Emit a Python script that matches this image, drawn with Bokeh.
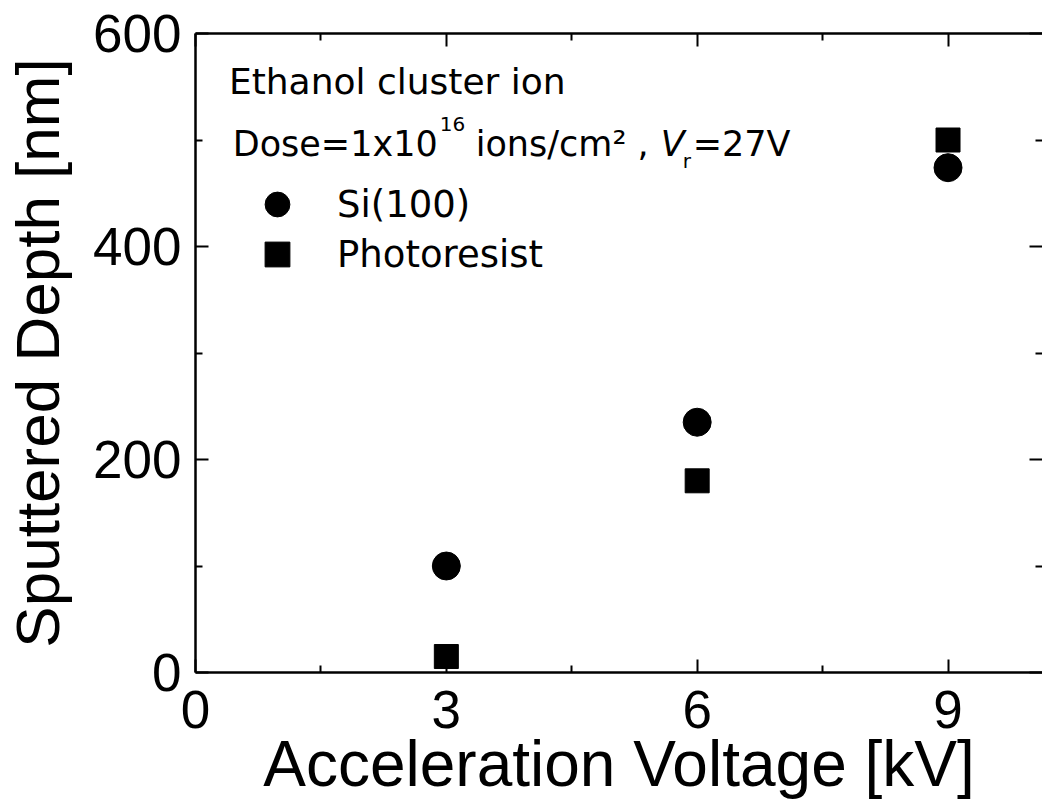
from bokeh.plotting import figure
from bokeh.models import (LinearAxis, FixedTicker, Label, Range1d, Legend, LegendItem,
                          CustomJSTickFormatter)
from bokeh.embed import file_html
from bokeh.resources import INLINE

# ---------------- data ----------------
voltage_kv = [3, 6, 9]
si_depth_nm = [100, 235, 474]
photoresist_depth_nm = [15, 180, 500]
series_names = ["Si(100)", "Photoresist"]

x_major_ticks = [0, 3, 6, 9]
x_minor_ticks = [1.5, 4.5, 7.5]
y_major_ticks = [0, 200, 400, 600]
y_minor_ticks = [100, 300, 500]

x_axis_title = "Acceleration Voltage [kV]"
y_axis_title = "Sputtered Depth [nm]"
note_title = "Ethanol cluster ion"

# ---------------- figure ----------------
p = figure(width=1042, height=802,
           x_range=Range1d(0, 10.13), y_range=Range1d(0, 600),
           x_axis_location=None, y_axis_location=None,
           output_backend="svg", toolbar_location=None,
           min_border_left=185, min_border_right=0,
           min_border_top=33, min_border_bottom=129)
p.grid.visible = False
p.outline_line_color = None
p.background_fill_color = "white"
p.border_fill_color = "white"

TICK_FONT = "Liberation Sans"
NOTE_FONT = "DejaVu Sans"


def style_axis(ax, labels=True):
    ax.axis_line_color = "black"
    ax.axis_line_width = 2.5
    ax.major_tick_in = 13
    ax.major_tick_out = 0
    ax.minor_tick_in = 7
    ax.minor_tick_out = 0
    ax.major_tick_line_width = 2
    ax.minor_tick_line_width = 2
    ax.major_tick_line_color = "black"
    ax.minor_tick_line_color = "black"
    if labels:
        ax.major_label_text_font = TICK_FONT
        ax.major_label_text_font_size = "53px"
        ax.major_label_text_color = "black"
    else:
        ax.formatter = CustomJSTickFormatter(code="return ''")
        ax.major_label_text_font_size = "1px"
        ax.major_label_standoff = 0


xb = LinearAxis(ticker=FixedTicker(ticks=x_major_ticks, minor_ticks=x_minor_ticks))
style_axis(xb)
xb.major_label_standoff = 18
xb.axis_label = x_axis_title
xb.axis_label_text_font = TICK_FONT
xb.axis_label_text_font_size = "64px"
xb.axis_label_text_font_style = "normal"
xb.axis_label_text_color = "black"
xb.axis_label_standoff = -3
p.add_layout(xb, "below")

xt = LinearAxis(ticker=FixedTicker(ticks=x_major_ticks, minor_ticks=x_minor_ticks))
style_axis(xt, labels=False)
p.add_layout(xt, "above")

yl = LinearAxis(ticker=FixedTicker(ticks=y_major_ticks, minor_ticks=y_minor_ticks))
style_axis(yl)
yl.major_label_standoff = 14
yl.axis_label = y_axis_title
yl.axis_label_text_font = TICK_FONT
yl.axis_label_text_font_size = "62px"
yl.axis_label_text_font_style = "normal"
yl.axis_label_text_color = "black"
yl.axis_label_standoff = 18
p.add_layout(yl, "left")

# right side: ticks only (the reference crops the right frame line away)
yr = LinearAxis(ticker=FixedTicker(ticks=y_major_ticks, minor_ticks=y_minor_ticks))
style_axis(yr, labels=False)
yr.axis_line_color = None
p.add_layout(yr, "right")

# ---------------- data marks ----------------
r_si = p.scatter(voltage_kv, si_depth_nm, marker="circle", size=28,
                 fill_color="black", line_color="black")
r_pr = p.scatter(voltage_kv, photoresist_depth_nm, marker="square", size=24,
                 fill_color="black", line_color="black")

# one legend per entry so the rows can sit close together
legend_rows = [(series_names[0], r_si, 437), (series_names[1], r_pr, 387)]
for name, rend, ly in legend_rows:
    lg = Legend(items=[LegendItem(label=name, renderers=[rend])],
                location=(51, ly), orientation="vertical",
                glyph_width=62, glyph_height=62, spacing=0,
                label_standoff=29, padding=0, margin=0,
                label_text_font=NOTE_FONT, label_text_font_size="37px",
                label_text_color="black", label_text_baseline="middle",
                border_line_alpha=0, background_fill_alpha=0)
    p.add_layout(lg)

# ---------------- annotations ----------------
p.add_layout(Label(x=0.40, y=555, text=note_title, text_font=NOTE_FONT,
                   text_font_size="36px", text_color="black",
                   text_baseline="alphabetic"))

dose_x, dose_y = 0.445, 496
pieces = [
    # text, x_offset, y_offset, size, style
    ("Dose=1x10", 0, 0, "35px", "normal"),
    ("16", 207, 20, "20px", "normal"),
    ("ions/cm\u00b2 ,", 243, 0, "35px", "normal"),
    ("V", 428, 0, "35px", "italic"),
    ("r", 450, -17, "20px", "normal"),
    ("=27V", 460, 0, "35px", "normal"),
]
for txt, xo, yo, fs, st in pieces:
    p.add_layout(Label(x=dose_x, y=dose_y, x_offset=xo, y_offset=yo, text=txt,
                       text_font=NOTE_FONT, text_font_size=fs,
                       text_font_style=st, text_color="black",
                       text_baseline="alphabetic"))

open("out.html", "w").write(file_html(p, INLINE))
